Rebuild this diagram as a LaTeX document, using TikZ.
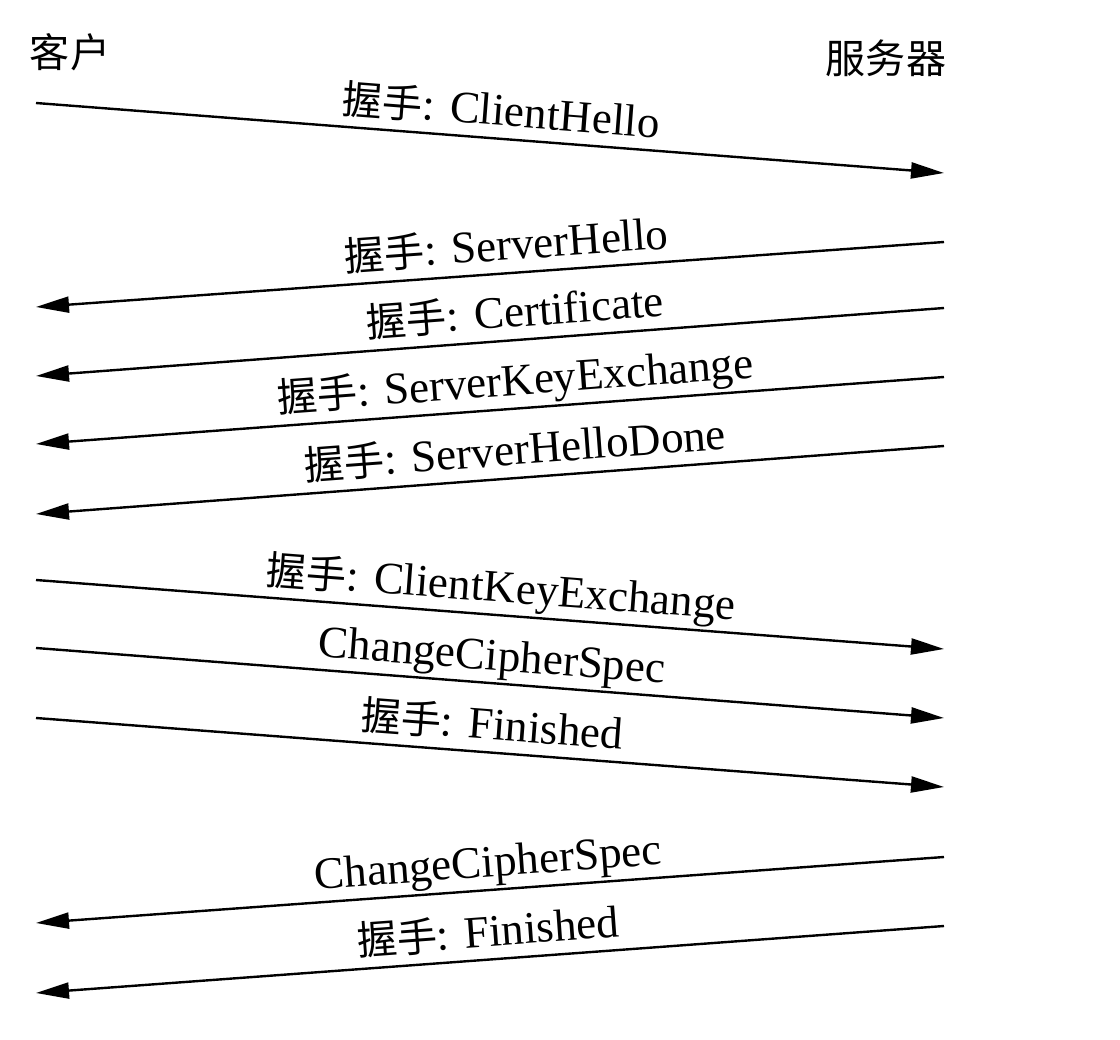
\documentclass[tikz,border=0pt]{standalone}
\usepackage{fontspec}
\setmainfont{Liberation Serif}
\newfontfamily\cjk[Scale=0.89]{Noto Sans CJK SC}
\usetikzlibrary{arrows.meta,positioning}
\tikzset{
  msg/.style={line width=2.4pt, -{Triangle[length=33pt,width=16pt]}},
  lbl/.style={sloped, above=12pt, inner sep=0pt, text depth=0pt, font=\fontsize{45}{50}\selectfont},
  party/.style={inner sep=0pt, font=\fontsize{45}{50}\selectfont\cjk}
}
\begin{document}
\begin{tikzpicture}[x=1pt,y=-1pt]
\useasboundingbox (0,0) rectangle (1120,1040);
% the two parties
\node[party] (client) at (70,52) {客户};
\node[party] (server) at (886,58) {服务器};
% end points on the client side and on the server side
\coordinate (c1) at (36,103);  \coordinate (s1) at (944,173);
\coordinate (c2) at (36,307);  \coordinate (s2) at (944,242);
\coordinate (c3) at (36,376);  \coordinate (s3) at (944,308);
\coordinate (c4) at (36,444);  \coordinate (s4) at (944,377);
\coordinate (c5) at (36,514);  \coordinate (s5) at (944,446);
\coordinate (c6) at (36,580);  \coordinate (s6) at (944,649);
\coordinate (c7) at (36,648);  \coordinate (s7) at (944,718);
\coordinate (c8) at (36,718);  \coordinate (s8) at (944,787);
\coordinate (c9) at (36,923);  \coordinate (s9) at (944,857);
\coordinate (c10) at (36,993); \coordinate (s10) at (944,926);
% messages
\draw[msg] (c1) -- node[lbl,pos=0.51] (m1) {{\cjk 握手}: ClientHello} (s1);
\draw[msg] (s2) -- node[lbl,pos=0.48] (m2) {{\cjk 握手}: ServerHello} (c2);
\draw[msg] (s3) -- node[lbl,pos=0.47] (m3) {{\cjk 握手}: Certificate} (c3);
\draw[msg] (s4) -- node[lbl,pos=0.47] (m4) {{\cjk 握手}: ServerKeyExchange} (c4);
\draw[msg] (s5) -- node[lbl,pos=0.47] (m5) {{\cjk 握手}: ServerHelloDone} (c5);
\draw[msg] (c6) -- node[lbl,pos=0.51] (m6) {{\cjk 握手}: ClientKeyExchange} (s6);
\draw[msg] (c7) -- node[lbl,pos=0.5] (m7) {ChangeCipherSpec} (s7);
\draw[msg] (c8) -- node[lbl,pos=0.5] (m8) {{\cjk 握手}: Finished} (s8);
\draw[msg] (s9) -- node[lbl,pos=0.5] (m9) {ChangeCipherSpec} (c9);
\draw[msg] (s10) -- node[lbl,pos=0.5] (m10) {{\cjk 握手}: Finished} (c10);
\end{tikzpicture}
\end{document}
